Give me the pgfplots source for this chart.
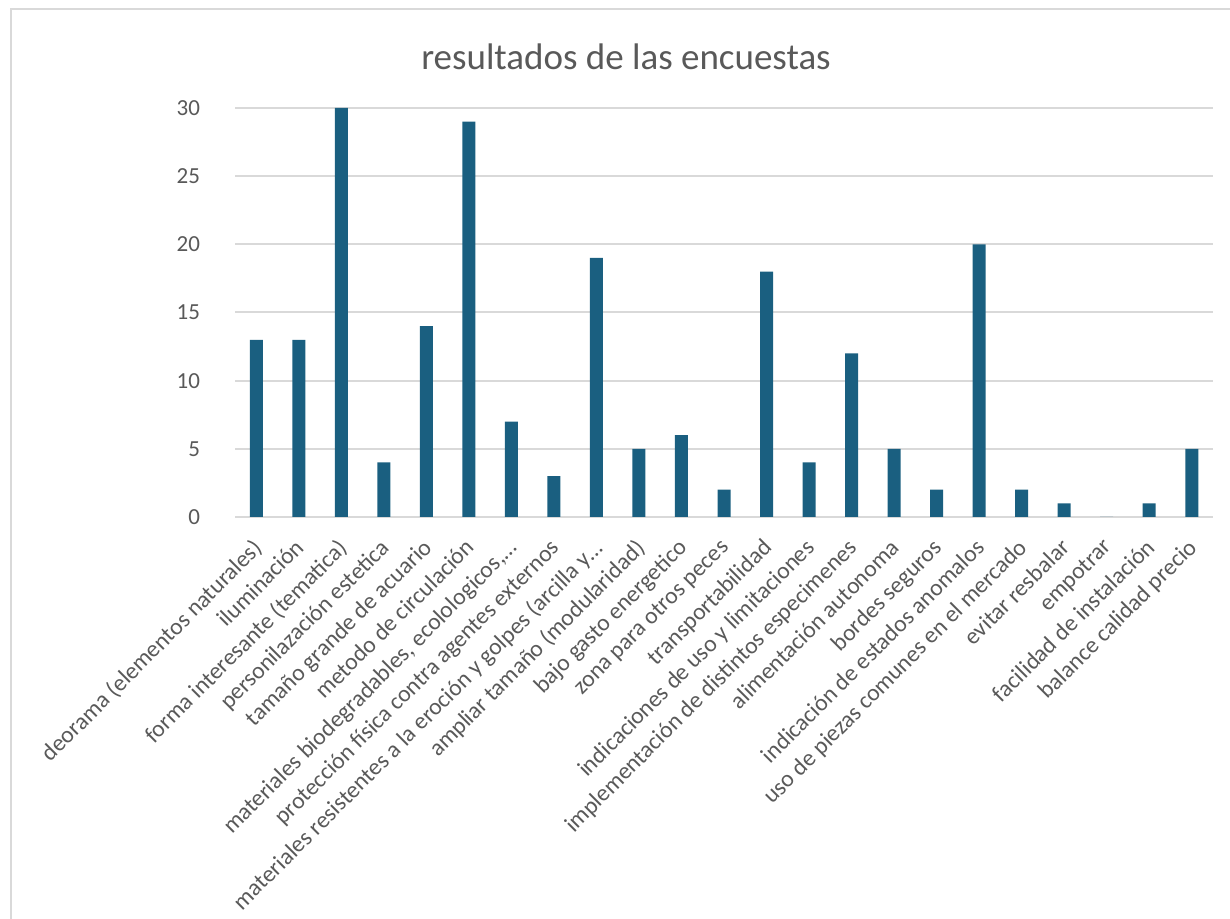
\documentclass[border=0pt]{standalone}
\usepackage{fontspec}
\setmainfont{Carlito}
\usepackage{pgfplots}
\pgfplotsset{compat=1.18}
\definecolor{barc}{HTML}{1A5F80}
\definecolor{txt}{HTML}{595959}
\definecolor{gridc}{HTML}{D9D9D9}
\begin{document}
\begin{tikzpicture}[x=1pt,y=1pt]
\useasboundingbox (0,0) rectangle (615,459.5);
\draw[gridc, line width=1.2pt] (5.5,0) -- (5.5,455) -- (615,455);
\begin{axis}[
  at={(117.5pt,201pt)}, anchor=south west,
  scale only axis, width=489pt, height=204.5pt,
  xmin=-0.5, xmax=22.5, ymin=0, ymax=30,
  ytick={0,5,...,30},
  xtick=data,
  xticklabels={
    {deorama (elementos naturales)},
    {iluminación},
    {forma interesante (tematica)},
    {personilazación estetica},
    {tamaño grande de acuario},
    {metodo de circulación},
    {materiales biodegradables, ecolologicos,…},
    {protección física contra agentes externos},
    {materiales resistentes a la eroción y golpes (arcilla y…},
    {ampliar tamaño (modularidad)},
    {bajo gasto energetico},
    {zona para otros peces},
    {transportabilidad},
    {indicaciones de uso y limitaciones},
    {implementación de distintos especimenes},
    {alimentación autonoma},
    {bordes seguros},
    {indicación de estados anomalos},
    {uso de piezas comunes en el mercado},
    {evitar resbalar},
    {empotrar},
    {facilidad de instalación},
    {balance calidad precio}},
  major tick length=0pt,
  axis line style={draw=none},
  ymajorgrids, grid style={gridc, line width=1pt},
  tick label style={text=txt},
  yticklabel style={font=\fontsize{11.5}{13}\selectfont, xshift=-14pt},
  /pgf/number format/assume math mode=true,
  xticklabel style={font=\fontsize{11.8}{14}\selectfont, rotate=45, anchor=north east, xshift=-5.5pt, yshift=-2pt},
  title={resultados de las encuestas},
  title style={font=\fontsize{18.5}{21}\selectfont, text=txt, at={(0.5,1)}, anchor=base, xshift=-49pt, yshift=13pt},
  ybar, bar width=6.5pt,
]
\addplot[fill=barc, draw=none] coordinates {
 (0,13) (1,13) (2,30) (3,4) (4,14) (5,29) (6,7) (7,3) (8,19) (9,5) (10,6)
 (11,2) (12,18) (13,4) (14,12) (15,5) (16,2) (17,20) (18,2) (19,1) (20,0)
 (21,1) (22,5)};
\end{axis}
\end{tikzpicture}
\end{document}
